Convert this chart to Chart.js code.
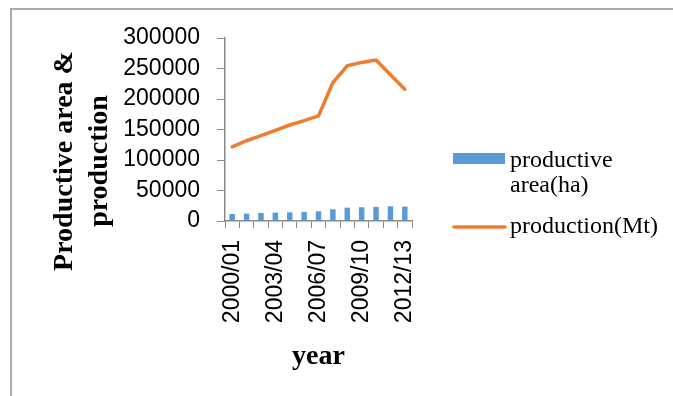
<!DOCTYPE html>
<html>
<head>
<meta charset="utf-8">
<script src="https://cdn.jsdelivr.net/npm/chart.js@4/dist/chart.umd.min.js"></script>
<style>
  html, body { margin: 0; padding: 0; background: #fff; }
  #wrap { position: relative; width: 673px; height: 396px; overflow: hidden; }
  #frame { position: absolute; left: 10px; top: 8px; width: 700px; height: 420px;
           border-left: 2px solid #aaaaaa; border-top: 2px solid #aaaaaa; }
  canvas { position: absolute; left: 0; top: 0; }
</style>
</head>
<body>
<div id="wrap">
  <div id="frame"></div>
  <canvas id="c" width="673" height="396"></canvas>
</div>
<script>
// Seasons (harvest years)
const years = ['2000/01','2001/02','2002/03','2003/04','2004/05','2005/06','2006/07',
               '2007/08','2008/09','2009/10','2010/11','2011/12','2012/13'];

// Productive area, hectares
const productiveArea = [11500, 12000, 13200, 13700, 14300, 14800, 15900,
                        19200, 21900, 22500, 23000, 24100, 23600];

// Production, metric tonnes
const production = [121700, 131600, 139800, 148600, 157400, 164500, 172200,
                    227000, 254500, 260000, 263800, 239600, 216000];

// Y axis range and step
const yTicks = [0, 50000, 100000, 150000, 200000, 250000, 300000];

// Legend text, one entry per series, split into display lines
const seriesNames = [['productive', 'area(ha)'], ['production(Mt)']];
const axisTitleX = 'year';
const axisTitleY = ['Productive area &', 'production'];

const BLUE = '#5B9BD5';
const ORANGE = '#ED7D31';
const AXIS = '#888888';
const tickFont = { family: '"Liberation Sans", Arial, sans-serif', size: 23 };

// Axis titles and a right-hand legend with wrapped labels
const decorations = {
  id: 'decorations',
  afterDraw(chart) {
    const ctx = chart.ctx;
    const a = chart.chartArea;
    ctx.save();
    ctx.fillStyle = '#000';
    ctx.textBaseline = 'middle';
    ctx.textAlign = 'center';

    // x title
    ctx.font = 'bold 28px "Liberation Serif", "Times New Roman", serif';
    ctx.fillText(axisTitleX, (a.left + a.right) / 2, 357);

    // y title, rotated, two lines
    ctx.save();
    ctx.translate(0, 161);
    ctx.rotate(-Math.PI / 2);
    ctx.fillText(axisTitleY[0], 0, 65);
    ctx.fillText(axisTitleY[1], 0, 100);
    ctx.restore();

    // legend
    ctx.font = '24px "Liberation Serif", "Times New Roman", serif';
    ctx.textAlign = 'left';
    const ds = chart.data.datasets;
    const lx = 453, lw = 52, tx = 510;
    // bar series swatch
    ctx.fillStyle = ds[0].backgroundColor;
    ctx.fillRect(lx, 153, lw, 11);
    ctx.fillStyle = '#000';
    ctx.fillText(seriesNames[0][0], tx, 161);
    ctx.fillText(seriesNames[0][1], tx, 186);
    // line series swatch
    ctx.strokeStyle = ds[1].borderColor;
    ctx.lineWidth = 3.5;
    ctx.lineCap = 'round';
    ctx.beginPath();
    ctx.moveTo(lx + 1, 227);
    ctx.lineTo(lx + lw, 227);
    ctx.stroke();
    ctx.fillText(seriesNames[1][0], tx, 227);
    ctx.restore();
  }
};

new Chart(document.getElementById('c'), {
  data: {
    labels: years,
    datasets: [
      {
        type: 'bar',
        label: seriesNames[0].join(' '),
        data: productiveArea,
        backgroundColor: BLUE,
        categoryPercentage: 1,
        barPercentage: 0.38,
        order: 2
      },
      {
        type: 'line',
        label: seriesNames[1].join(' '),
        data: production,
        borderColor: ORANGE,
        backgroundColor: ORANGE,
        borderWidth: 3.5,
        borderCapStyle: 'round',
        borderJoinStyle: 'round',
        pointRadius: 0,
        tension: 0,
        order: 1
      }
    ]
  },
  options: {
    responsive: false,
    animation: false,
    layout: { padding: { left: 0, top: 38, right: 261, bottom: 0 } },
    plugins: {
      legend: { display: false },
      tooltip: { enabled: false }
    },
    scales: {
      x: {
        type: 'category',
        offset: true,
        grid: { offset: true, drawOnChartArea: false, tickLength: 7, color: AXIS, lineWidth: 1 },
        border: { color: AXIS, width: 1.5 },
        ticks: {
          autoSkip: false,
          minRotation: 90,
          maxRotation: 90,
          padding: 12,
          color: '#000',
          font: tickFont,
          callback(v, i) { return i % 3 === 0 ? this.getLabelForValue(v) : ''; }
        },
        afterFit(s) { s.height = 175; }
      },
      y: {
        min: yTicks[0],
        max: yTicks[yTicks.length - 1],
        grid: { drawOnChartArea: false, tickLength: 8, color: AXIS, lineWidth: 1 },
        border: { color: AXIS, width: 1.5 },
        ticks: {
          autoSkip: false,
          stepSize: yTicks[1] - yTicks[0],
          padding: 17,
          color: '#000',
          font: tickFont,
          callback: v => String(v)
        },
        afterFit(s) { s.width = 225; }
      }
    }
  },
  plugins: [decorations]
});
</script>
</body>
</html>
